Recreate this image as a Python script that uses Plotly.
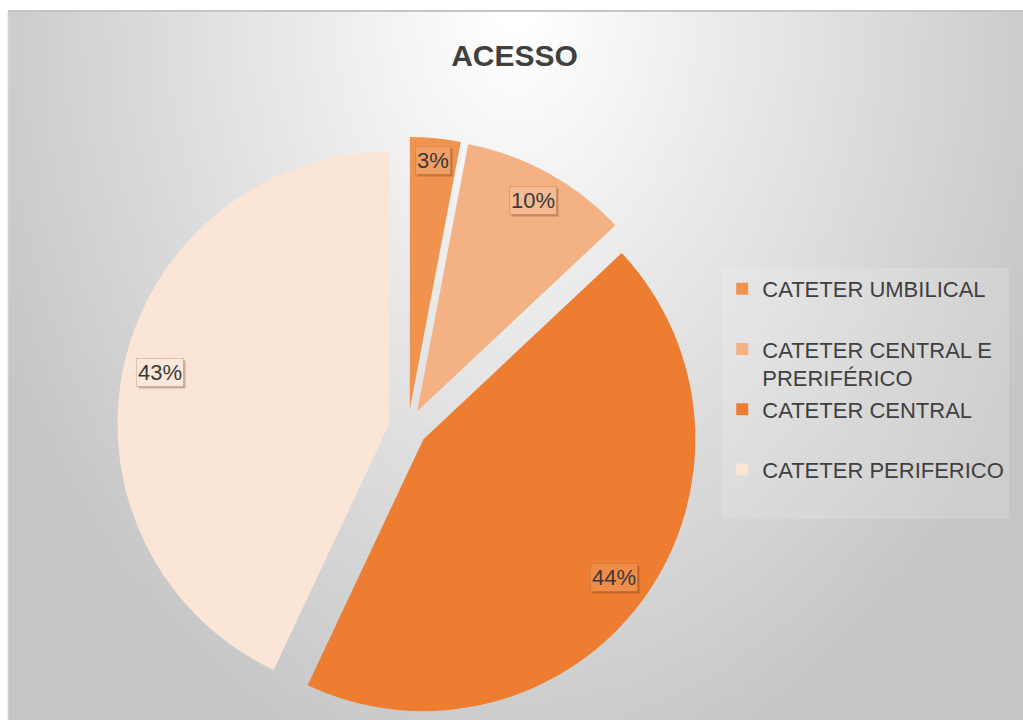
import base64
import struct
import zlib
import math
import plotly.graph_objects as go

# ---- data ----
categories = ["CATETER UMBILICAL", "CATETER CENTRAL E<br>PRERIFÉRICO", "CATETER CENTRAL", "CATETER PERIFERICO"]
values = [3, 10, 44, 43]
colors = ["#F0934F", "#F4B183", "#ED7D31", "#FBE5D6"]
title_text = "ACESSO"

FONT = "Liberation Sans, Arial, sans-serif"
W, H = 1023, 720
PULL = 0.07
DOM_X = [0.1144, 0.6833]
DOM_Y = [0.0014, 0.8097]


# ---- background gradient (radial, white at top centre) ----
def gradient_png(w=160, h=112):
    rows = []
    for j in range(h):
        row = bytearray([0])
        yn = (j + 0.5) / h
        for i in range(w):
            xn = (i + 0.5) / w
            d = math.sqrt(((xn - 0.5) / 0.5) ** 2 + (yn / 1.0) ** 2)
            v = int(max(198, min(255, 257 - 52 * d)))
            row += bytes([v, v, v])
        rows.append(bytes(row))
    raw = b"".join(rows)

    def chunk(tag, data):
        c = struct.pack(">I", len(data)) + tag + data
        return c + struct.pack(">I", zlib.crc32(tag + data) & 0xFFFFFFFF)

    png = b"\x89PNG\r\n\x1a\n"
    png += chunk(b"IHDR", struct.pack(">IIBBBBB", w, h, 8, 2, 0, 0, 0))
    png += chunk(b"IDAT", zlib.compress(raw, 9))
    png += chunk(b"IEND", b"")
    return "data:image/png;base64," + base64.b64encode(png).decode()


def lighten(hex_color, f):
    h = hex_color.lstrip("#")
    r, g, b = (int(h[i:i + 2], 16) for i in (0, 2, 4))
    r, g, b = (int(c + (255 - c) * f) for c in (r, g, b))
    return f"rgb({r},{g},{b})"


box_x0, box_y0 = 8 / W, 1 - 11 / H

# legend labels padded to two lines so entries are evenly spaced
legend_labels = [c if "<br>" in c else c + "<br> " for c in categories]

fig = go.Figure(
    go.Pie(
        labels=legend_labels,
        values=values,
        sort=False,
        direction="clockwise",
        rotation=0,
        pull=[PULL] * len(values),
        marker=dict(colors=colors, line=dict(width=0)),
        textinfo="none",
        domain=dict(x=DOM_X, y=DOM_Y),
        hoverinfo="label+percent",
    )
)

# ---- percentage labels placed at the inside end of each slice (Excel style) ----
cx_px = (DOM_X[0] + DOM_X[1]) / 2 * W
cy_px = (1 - (DOM_Y[0] + DOM_Y[1]) / 2) * H
r_px = min((DOM_X[1] - DOM_X[0]) * W, (DOM_Y[1] - DOM_Y[0]) * H) / 2 / (1 + PULL)
total = sum(values)
cum = 0
annotations = []
hw, hh, margin = 28, 14, 6
for v, col in zip(values, colors):
    theta = 2 * math.pi * (cum + v / 2) / total
    cum += v
    ux, uy = math.sin(theta), -math.cos(theta)
    dist = PULL * r_px + r_px - margin - (abs(ux) * hw + abs(uy) * hh)
    px = cx_px + ux * dist
    py = cy_px + uy * dist
    txt = f"{round(100 * v / total)}%"
    common = dict(
        x=px / W, y=1 - py / H, xref="paper", yref="paper",
        showarrow=False, xanchor="center", yanchor="middle",
        borderpad=1,
    )
    annotations.append(dict(common, text=txt,
                            font=dict(family=FONT, size=22, color="rgba(0,0,0,0)"),
                            bgcolor="rgba(90,50,20,0.30)", xshift=2, yshift=-2))
    annotations.append(dict(common, text=txt,
                            font=dict(family=FONT, size=22, color="#3a3a3a"),
                            bgcolor=lighten(col, 0.12),
                            bordercolor="rgba(150,90,50,0.25)", borderwidth=1))

fig.update_layout(
    width=W,
    height=H,
    margin=dict(l=0, r=0, t=0, b=0),
    paper_bgcolor="white",
    plot_bgcolor="rgba(0,0,0,0)",
    title=dict(
        text="<b>" + title_text + "</b>",
        x=0.503,
        xanchor="center",
        y=1 - 55 / H,
        yanchor="middle",
        font=dict(family=FONT, size=30, color="#404040"),
    ),
    legend=dict(
        x=0.706,
        y=1 - 268 / H,
        xanchor="left",
        yanchor="top",
        valign="top",
        font=dict(family=FONT, size=22, color="#404040"),
        bgcolor="rgba(255,255,255,0.15)",
        itemclick=False,
    ),
    annotations=annotations,
    images=[
        dict(
            source=gradient_png(),
            xref="paper",
            yref="paper",
            x=box_x0,
            y=box_y0,
            sizex=1 - box_x0,
            sizey=box_y0,
            xanchor="left",
            yanchor="top",
            sizing="stretch",
            layer="below",
        )
    ],
    shapes=[
        dict(
            type="line",
            xref="paper",
            yref="paper",
            x0=box_x0,
            x1=1,
            y0=box_y0,
            y1=box_y0,
            line=dict(color="#c4c4c4", width=2),
        ),
        dict(
            type="line",
            xref="paper",
            yref="paper",
            x0=box_x0,
            x1=box_x0,
            y0=0,
            y1=box_y0,
            line=dict(color="#d8d8d8", width=1),
        ),
    ],
)

fig.write_html("out.html")
